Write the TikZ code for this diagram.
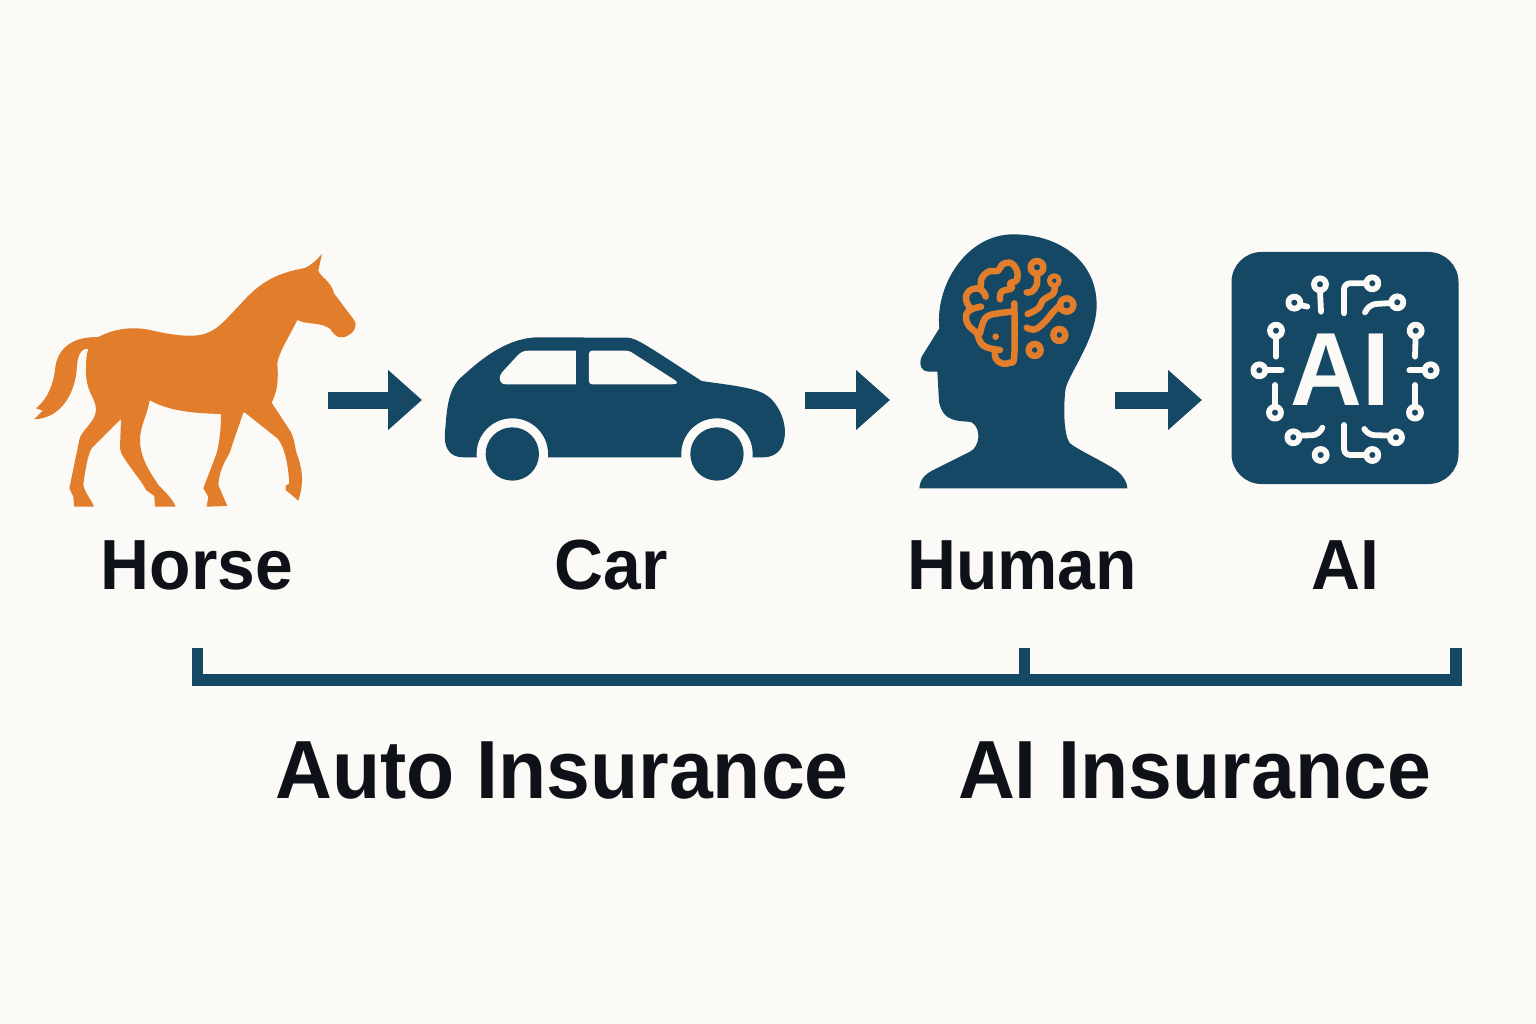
\documentclass[tikz,border=0pt]{standalone}
\usepackage{fontspec}
\setmainfont[FakeStretch=0.955]{Liberation Sans}
\usepackage{xcolor}
\usepackage{tikz}
\usetikzlibrary{arrows.meta}

\definecolor{paper}{HTML}{FBFAF6}
\definecolor{navy}{HTML}{154864}
\definecolor{amber}{HTML}{E17D2B}
\definecolor{ink}{HTML}{0E1218}

\begin{document}
\begin{tikzpicture}[
                    x=1pt, y=-1pt,
                    every node/.style={inner sep=0pt, outer sep=0pt},
                    icon/.style={minimum height=100pt},
                    name label/.style={anchor=base, text=ink, font=\fontsize{71}{71}\selectfont\bfseries},
                    span label/.style={anchor=base, text=ink, font=\fontsize{82.5}{82.5}\selectfont\bfseries},
                    flow/.style={line width=17pt, navy, -{Triangle[length=34pt,width=58pt]}},
                    bracket/.style={line width=11.5pt, navy},
                    curvy/.style={smooth, tension=.7},
                    brain/.style={line width=6.5pt, amber, line cap=round, line join=round},
                    trace/.style={line width=5.8pt, paper, line cap=round, line join=round, rounded corners=6pt},
                ]

                    \fill[paper] (0,0) rectangle (1536,1024);

                    % Horse
                    \begin{scope}[shift={(20,240)}, x=.3333pt, y=-.3333pt]
                        \fill[amber] (906,42) -- (895,92)
                            .. controls (900,110) and (935,125) .. (942,160) -- (1000,237)
                            .. controls (1015,255) and (1005,275) .. (985,286)
                            .. controls (960,300) and (945,290) .. (932,268)
                            .. controls (905,245) and (860,255) .. (832,240)
                            .. controls (810,285) and (775,340) .. (772,370)
                            .. controls (775,410) and (775,450) .. (755,488)
                            -- (812,575) .. controls (825,600) and (825,625) .. (830,640)
                            .. controls (845,680) and (855,720) .. (835,782)
                            -- (797,750) -- (797,738) -- (808,730)
                            .. controls (805,680) and (795,620) .. (772,595) -- (675,518) -- (670,518)
                            -- (635,620) .. controls (630,650) and (600,670) .. (595,735) -- (622,798)
                            -- (560,800) -- (565,770) -- (550,745) -- (590,640)
                            .. controls (600,600) and (603,560) .. (603,522)
                            .. controls (530,520) and (450,515) .. (392,482) -- (389,482)
                            .. controls (380,530) and (360,560) .. (360,600)
                            .. controls (360,660) and (400,710) .. (415,735)
                            .. controls (435,755) and (460,780) .. (467,800)
                            -- (405,800) -- (403,768) -- (378,750)
                            .. controls (365,720) and (300,650) .. (300,625) -- (303,537)
                            -- (215,625) .. controls (205,640) and (195,690) .. (190,735)
                            .. controls (195,760) and (215,780) .. (222,800)
                            -- (163,800) -- (160,770) -- (148,745) -- (178,600)
                            .. controls (180,575) and (228,545) .. (228,510)
                            .. controls (228,470) and (195,460) .. (198,380)
                            .. controls (198,360) and (200,340) .. (205,328) -- (208,327)
                            .. controls (180,322) and (172,350) .. (170,390)
                            .. controls (165,450) and (130,535) .. (42,538)
                            -- (68,512) -- (48,505)
                            .. controls (85,475) and (100,430) .. (105,390)
                            .. controls (110,330) and (150,290) .. (235,291)
                            .. controls (280,268) and (330,258) .. (390,270)
                            .. controls (440,282) and (500,292) .. (540,285)
                            .. controls (590,275) and (610,245) .. (650,205)
                            .. controls (700,150) and (740,105) .. (850,85)
                            .. controls (870,80) and (890,60) .. (906,42) -- cycle;
                    \end{scope}

                    % Car
                    \begin{scope}[shift={(430,325)}, x=.3333pt, y=-.3333pt]
                        \fill[navy] (45,320) .. controls (50,270) and (50,200) .. (90,160)
                            .. controls (130,125) and (220,35) .. (330,37) -- (590,38)
                            .. controls (620,38) and (650,62) .. (815,168)
                            .. controls (880,178) and (960,185) .. (1000,205)
                            .. controls (1040,225) and (1065,280) .. (1065,320)
                            .. controls (1065,370) and (1040,397) .. (1000,397) -- (100,397)
                            .. controls (60,397) and (40,370) .. (45,320) -- cycle;
                        \fill[paper] (247,387) circle[radius=107];
                        \fill[paper] (861,387) circle[radius=107];
                        \fill[paper] (0,398) rectangle (1100,480);
                        \fill[navy] (247,387) circle[radius=80];
                        \fill[navy] (861,387) circle[radius=80];
                        \fill[paper] (438,77) -- (295,77) .. controls (280,77) and (272,82) .. (262,92) -- (218,140) .. controls (202,158) and (208,178) .. (228,178) -- (438,178) -- cycle;
                        \fill[paper, rounded corners=3pt] (477,77) -- (597,77) -- (745,172) -- (735,178) -- (477,178) -- cycle;
                    \end{scope}

                    % Human
                    \begin{scope}[shift={(900,225)}, x=.3333pt, y=-.3333pt]
                        \fill[navy] (118,310) .. controls (105,180) and (200,28) .. (340,28)
                            .. controls (480,28) and (590,110) .. (590,240)
                            .. controls (590,340) and (510,440) .. (497,490)
                            .. controls (490,540) and (490,630) .. (510,655)
                            .. controls (530,672) and (600,705) .. (640,730)
                            .. controls (665,745) and (682,770) .. (682,790) -- (58,790)
                            .. controls (60,760) and (80,745) .. (100,735) -- (210,680)
                            .. controls (240,665) and (245,610) .. (215,592)
                            .. controls (190,585) and (130,600) .. (117,530) -- (112,440) -- (85,440)
                            .. controls (65,440) and (55,420) .. (65,395) -- cycle;
                    \end{scope}

                    % Brain and circuit
                    \begin{scope}[shift={(955,250)}, x=.3333pt, y=-.3333pt]
                        \draw[brain] plot[curvy] coordinates {(178,160) (178,315) (165,338) (140,340) (122,325) (120,305)};
                        \draw[brain] plot[curvy] coordinates {(135,300) (95,292) (75,275) (65,250) (40,225) (33,195) (50,178) (78,170)};
                        \draw[brain] plot[curvy] coordinates {(170,185) (130,190) (100,197) (85,215) (75,250)};
                        \draw[brain] plot[curvy] coordinates {(92,140) (85,125) (65,115) (40,125) (33,150) (48,178)};
                        \draw[brain] plot[curvy] coordinates {(78,110) (80,85) (100,65) (130,62) (140,45) (165,38) (185,60) (185,90) (165,100) (170,115) (140,125) (135,148)};
                        \fill[amber] (122,260) circle[radius=10];
                        \draw[brain] (246,52) circle[radius=19];
                        \draw[brain] plot[curvy] coordinates {(246,75) (245,105) (230,125) (215,127)};
                        \draw[brain, line width=5pt] (298,92) circle[radius=15];
                        \draw[brain] plot[curvy] coordinates {(298,108) (295,130) (265,150) (250,175) (218,192)};
                        \draw[brain] (335,165) circle[radius=20];
                        \draw[brain] plot[curvy] coordinates {(316,165) (295,185) (270,215) (240,238) (215,233)};
                        \draw[brain] (313,255) circle[radius=18];
                        \draw[brain] (239,300) circle[radius=18];
                    \end{scope}

                    % AI chip
                    \fill[navy] (1231.5,252) [rounded corners=30pt] rectangle (1458.5,484);
                    \begin{scope}[shift={(1220,245)}, x=.3333pt, y=-.3333pt]
                        \foreach \px/\py in {300/118, 457/115, 223/173, 532/172, 168/257, 587/257, 118/376, 632/376, 165/503, 585/503, 220/577, 528/577, 302/630, 457/630}
                            \draw[trace] (\px,\py) circle[radius=18];
                        \draw[trace] (300,136) -- (303,200);
                        \draw[trace] (439,115) -- (372,115) -- (372,205);
                        \draw[trace] (240,180) -- (262,185);
                        \draw[trace] (514,174) -- (450,178) -- (435,202);
                        \draw[trace] (168,275) -- (168,335);
                        \draw[trace] (587,275) -- (585,335);
                        \draw[trace] (136,376) -- (185,376);
                        \draw[trace] (614,376) -- (568,376);
                        \draw[trace] (165,485) -- (165,420);
                        \draw[trace] (585,485) -- (585,420);
                        \draw[trace] (238,572) -- (295,570) -- (307,548);
                        \draw[trace] (510,572) -- (445,570) -- (433,552);
                        \draw[trace] (439,630) -- (372,630) -- (372,540);
                    \end{scope}
                    \node (chiptext) at (1340,405) [anchor=base, text=paper, font=\fontsize{104}{104}\selectfont\bfseries] {AI};

                    % Nodes
                    \node (horse) at (181,400) [icon, minimum width=294pt] {};
                    \node (car) at (613.5,400) [icon, minimum width=383pt] {};
                    \node (human) at (1002.5,400) [icon, minimum width=225pt] {};
                    \node (chip) at (1330,400) [icon, minimum width=256pt] {};
                    \node (horselabel) at (197,589) [name label] {Horse};
                    \node (carlabel) at (611.5,589) [name label] {Car};
                    \node (humanlabel) at (1022,589) [name label] {Human};
                    \node (ailabel) at (1345,589) [name label] {AI};
                    \node (autolabel) at (562,798) [span label] {Auto Insurance};
                    \node (insurancelabel) at (1194.5,798) [span label] {AI Insurance};

                    % Arrows
                    \draw[flow] (horse) -- (car);
                    \draw[flow] (car) -- (human);
                    \draw[flow] (human) -- (chip);

                    % Bracket
                    \coordinate (spanstart) at (197.5,648);
                    \coordinate (spanmid) at (1024.5,648);
                    \coordinate (spanend) at (1456,648);
                    \coordinate (spanbase) at (1024.5,680);
                    \draw[bracket, line join=miter] (spanstart) |- (spanbase) -| (spanend);
                    \draw[bracket] (spanmid) -- (spanbase);

                \end{tikzpicture}
\end{document}
